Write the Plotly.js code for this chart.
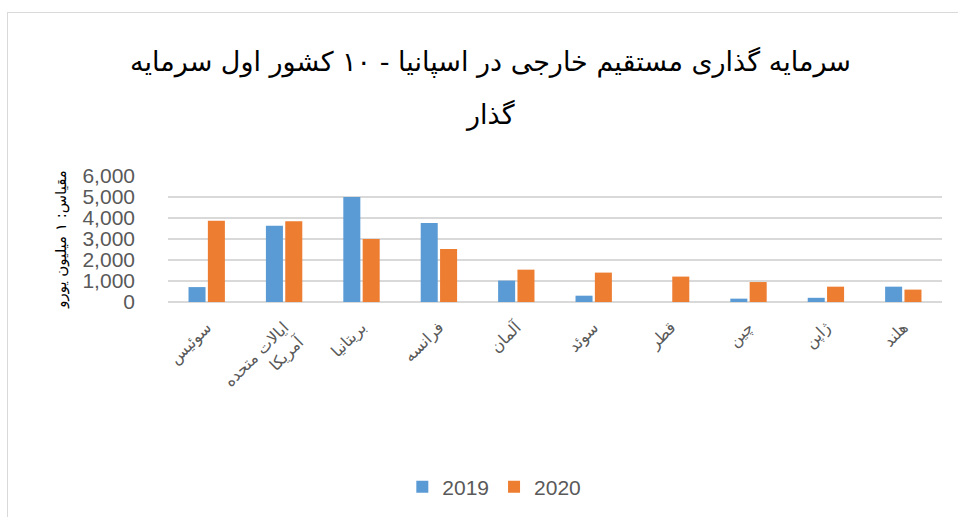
<!DOCTYPE html>
<html>
<head>
<meta charset="utf-8">
<script src="https://cdn.plot.ly/plotly-3.0.1.min.js"></script>
<style>
html,body{margin:0;padding:0;background:#fff;}
#wrap{position:relative;width:958px;height:517px;overflow:hidden;}
#chart{width:958px;height:517px;}
#frame{position:absolute;left:7px;top:12px;width:960px;height:520px;border:1.5px solid #d9d9d9;box-sizing:border-box;pointer-events:none;}
</style>
</head>
<body>
<div id="wrap"><div id="chart"></div><div id="frame"></div></div>
<script>
const categories = ["سوئیس", "ایالات متحده<br>آمریکا", "بریتانیا", "فرانسه", "آلمان", "سوئد", "قطر", "چین", "ژاپن", "هلند"];
const values2019 = [710, 3630, 5000, 3760, 1020, 300, 0, 160, 200, 730];
const values2020 = [3870, 3840, 3000, 2520, 1540, 1400, 1210, 950, 730, 590];
const seriesNames = ["2019", "2020"];
const yTicks = [0, 1000, 2000, 3000, 4000, 5000, 6000];
const titleLine1 = "سرمایه گذاری مستقیم خارجی در اسپانیا - ۱۰ کشور اول سرمایه";
const titleLine2 = "گذار";
const yTitle = "مقیاس: ۱ میلیون یورو";

const fontFam = "'DejaVu Sans', 'Liberation Sans', sans-serif";
const numFam = "'Liberation Sans', Arial, sans-serif";

const traces = [
  {type: 'bar', name: seriesNames[0], x: categories, y: values2019,
   marker: {color: '#5B9BD5', line: {width: 0}}},
  {type: 'bar', name: seriesNames[1], x: categories, y: values2020,
   marker: {color: '#ED7D31', line: {width: 0}}}
];

const layout = {
  width: 958, height: 517,
  margin: {l: 168, r: 16, t: 176, b: 215},
  paper_bgcolor: '#ffffff', plot_bgcolor: '#ffffff',
  barmode: 'group', bargap: 0.5, bargroupgap: 0.12,
  font: {family: fontFam, color: '#595959'},
  title: {text: titleLine1, font: {family: fontFam, size: 27, color: '#000000'},
          xref: 'container', x: 0.512, xanchor: 'center',
          yref: 'container', y: 1 - 62/517, yanchor: 'middle'},
  annotations: [
    {text: titleLine2, xref: 'paper', yref: 'paper', showarrow: false,
     x: (490 - 168) / 774, y: (302 - 115) / 126, xanchor: 'center', yanchor: 'middle',
     font: {family: fontFam, size: 27, color: '#000000'}}
  ],
  xaxis: {
    type: 'category', tickangle: -45, showgrid: false, showline: false, zeroline: false,
    ticks: '', ticklabelstandoff: 12,
    tickfont: {family: fontFam, size: 16, color: '#595959'}
  },
  yaxis: {
    range: [0, 6000], tickvals: yTicks, tickformat: ',d', showline: false,
    gridcolor: '#d9d9d9', gridwidth: 1.5, zeroline: true, zerolinecolor: '#d9d9d9', zerolinewidth: 1.5,
    ticks: '', ticklabelstandoff: 32,
    tickfont: {family: numFam, size: 21, color: '#595959'},
    title: {text: yTitle, font: {family: fontFam, size: 15, color: '#000000'}, standoff: 12}
  },
  showlegend: true,
  legend: {orientation: 'h', xref: 'container', yref: 'container', x: 0.516, xanchor: 'center',
           y: 1 - 487/517, yanchor: 'middle', font: {family: numFam, size: 21, color: '#595959'},
           itemwidth: 30, traceorder: 'normal'}
};

Plotly.newPlot('chart', traces, layout, {displayModeBar: false, staticPlot: true});
</script>
</body>
</html>
